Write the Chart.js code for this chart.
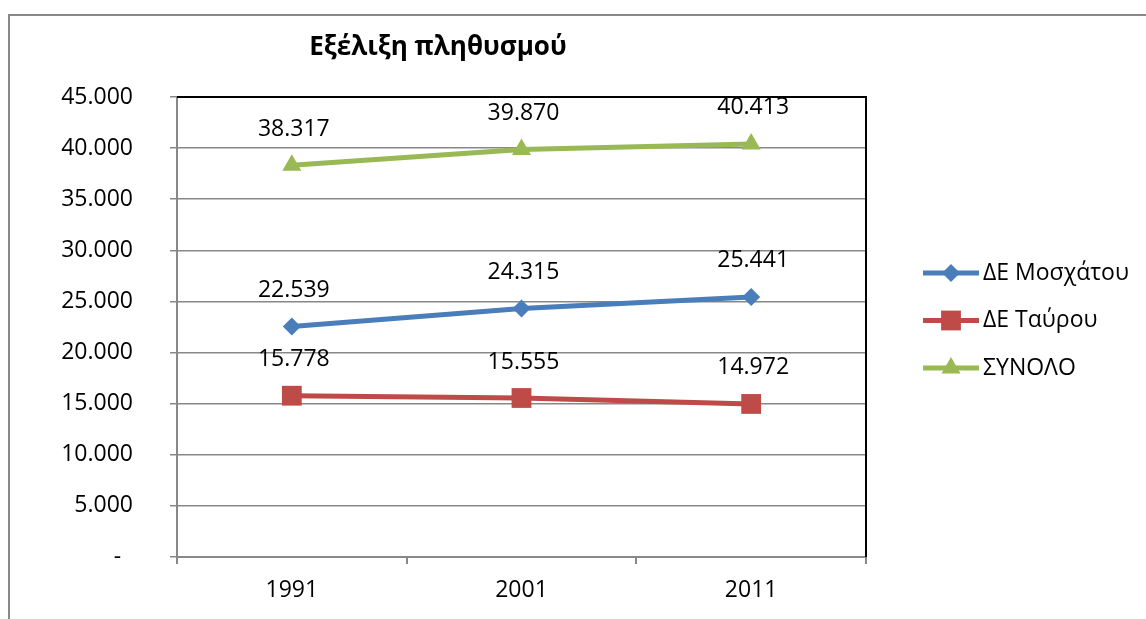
<!DOCTYPE html>
<html>
<head>
<meta charset="utf-8">
<script src="https://cdn.jsdelivr.net/npm/chart.js@4/dist/chart.umd.min.js"></script>
<style>
  html, body { margin: 0; padding: 0; background: #fff; }
</style>
</head>
<body>
<canvas id="plithismos" width="1146" height="619"></canvas>
<script>
var etiketes = ['1991', '2001', '2011'];
var moschatou = [22539, 24315, 25441];
var tavrou = [15778, 15555, 14972];
var synolo = [38317, 39870, 40413];
var yTickLabels = ['-  ', '5.000', '10.000', '15.000', '20.000', '25.000', '30.000', '35.000', '40.000', '45.000'];

var gramma = '"Open Sans", "Noto Sans", sans-serif';
var gkri = '#888888';

function teleies(v) {
  return String(v).replace(/\B(?=(\d{3})+(?!\d))/g, '.');
}

function midenise(scale) {
  scale.paddingTop = 0;
  scale.paddingBottom = 0;
  scale.paddingLeft = 0;
  scale.paddingRight = 0;
}

// περίγραμμα, τίτλος, ετικέτες τιμών και υπόμνημα
var sxedio = {
  id: 'sxedio',
  afterDraw: function (chart) {
    var ctx = chart.ctx;
    var area = chart.chartArea;
    ctx.save();

    ctx.strokeStyle = gkri;
    ctx.lineWidth = 2;
    ctx.strokeRect(9, 15, 1300, 800);

    ctx.strokeStyle = '#000';
    ctx.lineWidth = 2;
    ctx.beginPath();
    ctx.moveTo(area.left, area.top);
    ctx.lineTo(area.right, area.top);
    ctx.lineTo(area.right, area.bottom);
    ctx.stroke();

    ctx.fillStyle = '#000';
    ctx.font = 'bold 26px ' + gramma;
    ctx.textAlign = 'center';
    ctx.textBaseline = 'middle';
    ctx.fillText('Εξέλιξη πληθυσμού', 438, 48);

    ctx.font = '23px ' + gramma;
    chart.data.datasets.forEach(function (ds, i) {
      var meta = chart.getDatasetMeta(i);
      meta.data.forEach(function (pt, j) {
        ctx.fillText(teleies(ds.data[j]), pt.x + 2, pt.y - 36);
      });
    });

    ctx.textAlign = 'left';
    chart.data.datasets.forEach(function (ds, i) {
      var y = 273 + i * 47.5;
      ctx.strokeStyle = ds.borderColor;
      ctx.lineWidth = 5;
      ctx.beginPath();
      ctx.moveTo(923, y);
      ctx.lineTo(979, y);
      ctx.stroke();
      ctx.fillStyle = ds.borderColor;
      Chart.helpers.drawPoint(ctx, { pointStyle: ds.pointStyle, radius: ds.pointRadius, rotation: 0, borderWidth: 0 }, 951, y);
      ctx.fillStyle = '#000';
      ctx.fillText(ds.label, 983, y);
    });
    ctx.restore();
  }
};

var grafima = document.getElementById('plithismos').getContext('2d');

new Chart(grafima, {
  type: 'line',
  data: {
    labels: etiketes,
    datasets: [
      {
        label: 'ΔΕ Μοσχάτου',
        data: moschatou,
        borderColor: '#4A7EBB',
        backgroundColor: '#4A7EBB',
        borderWidth: 5,
        pointStyle: 'rectRot',
        pointRadius: 9,
        pointBorderWidth: 0
      },
      {
        label: 'ΔΕ Ταύρου',
        data: tavrou,
        borderColor: '#BE4B48',
        backgroundColor: '#BE4B48',
        borderWidth: 5,
        pointStyle: 'rect',
        pointRadius: 14,
        pointBorderWidth: 0
      },
      {
        label: 'ΣΥΝΟΛΟ',
        data: synolo,
        borderColor: '#98B954',
        backgroundColor: '#98B954',
        borderWidth: 5,
        pointStyle: 'triangle',
        pointRadius: 11,
        pointBorderWidth: 0
      }
    ]
  },
  options: {
    responsive: false,
    animation: false,
    devicePixelRatio: 1,
    layout: { padding: { left: 0, top: 97, right: 280, bottom: 0 } },
    plugins: {
      legend: { display: false },
      title: { display: false },
      tooltip: { enabled: false }
    },
    scales: {
      x: {
        offset: true,
        grid: { offset: true, drawOnChartArea: false, drawTicks: true, tickLength: 7, color: gkri, lineWidth: 2 },
        border: { color: gkri, width: 2 },
        ticks: { color: '#000', font: { family: gramma, size: 23 }, padding: 13, maxRotation: 0 },
        afterFit: function (scale) { scale.height = 62; midenise(scale); }
      },
      y: {
        min: 0,
        max: 45000,
        grid: { color: gkri, lineWidth: 1.5, tickLength: 7 },
        border: { color: gkri, width: 2 },
        ticks: {
          stepSize: 5000,
          color: '#000',
          font: { family: gramma, size: 23 },
          padding: 37,
          callback: function (v, i) { return yTickLabels[i]; }
        },
        afterFit: function (scale) { scale.width = 177; midenise(scale); }
      }
    }
  },
  plugins: [sxedio]
});
</script>
</body>
</html>
